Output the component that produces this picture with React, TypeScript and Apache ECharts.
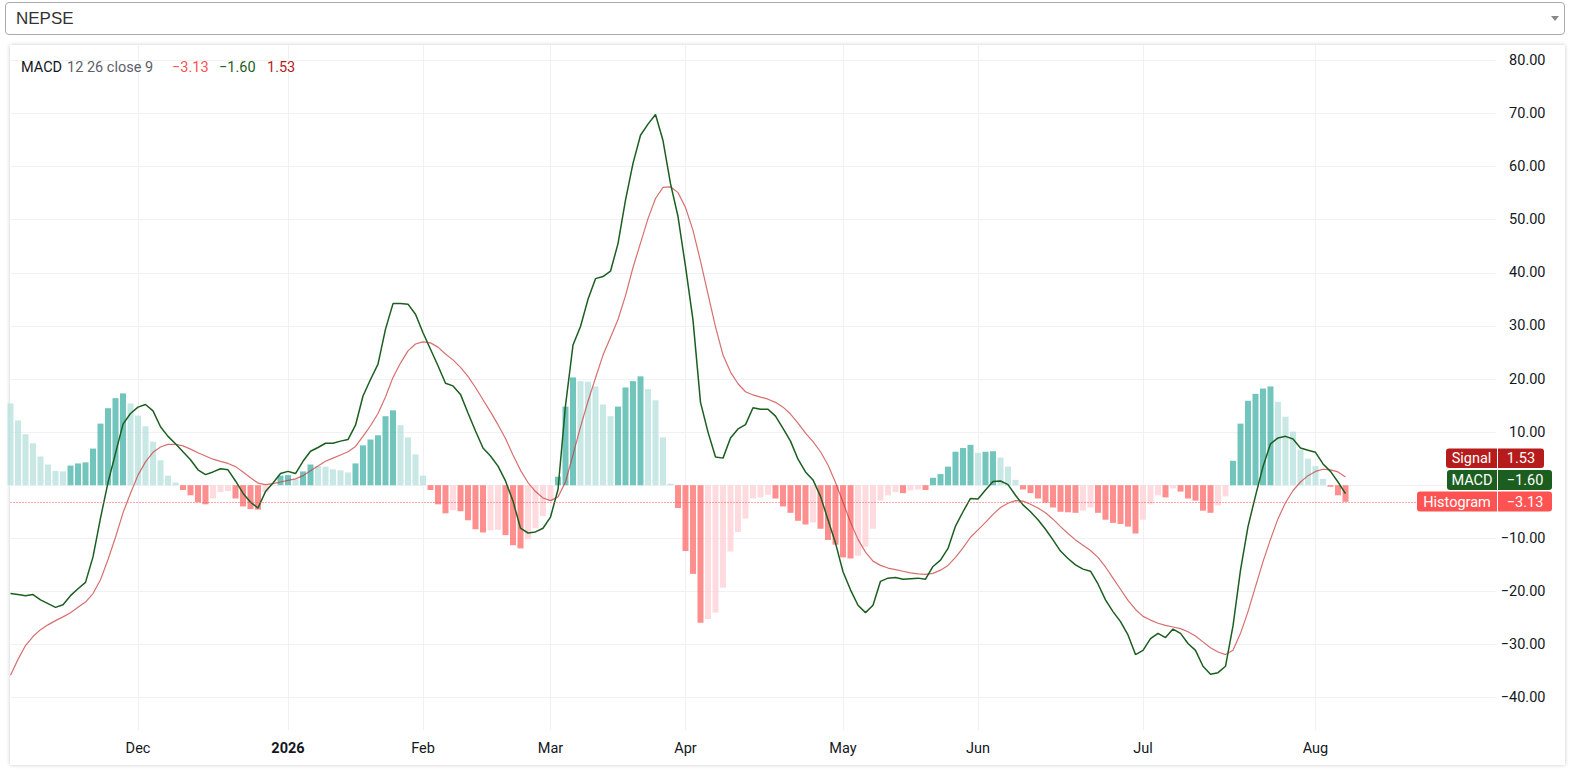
import React, { useEffect, useRef } from "react";
import * as echarts from "echarts";

const FONT = "Roboto, 'Trebuchet MS', sans-serif";

// ---- time scale: trading sessions per month (first visible month is Nov, unlabeled)
const monthKeys = ["Nov", "Dec", "Jan", "Feb", "Mar", "Apr", "May", "Jun", "Jul", "Aug"];
const monthBarCounts = [17, 20, 18, 17, 18, 21, 18, 22, 23, 5];
const monthTickLabels = ["", "Dec", "2026", "Feb", "Mar", "Apr", "May", "Jun", "Jul", "Aug"];
const rightPadSlots = 20;

// ---- price-scale grid values and the labels that are visible (0.00 sits behind the tags)
const yTicks = [-40, -30, -20, -10, 0, 10, 20, 30, 40, 50, 60, 70, 80];
const yLabelValues = [-40, -30, -20, -10, 10, 20, 30, 40, 50, 60, 70, 80];

// ---- MACD histogram (MACD - signal)
const histogram = [
  15.4, 12.2, 9.6, 7.9, 5.4, 3.9, 2.7, 2.6, 3.7, 4.1,
  4.3, 6.9, 11.6, 14.5, 16.4, 17.3, 15.4, 13.1, 11.1, 8.2,
  4.7, 1.8, 0.5, -0.9, -1.9, -3.2, -3.6, -2.5, -1.3, -1.1,
  -2.5, -4.0, -4.5, -4.6, -1.3, -0.1, 1.8, 1.9, 1.1, 2.6,
  3.9, 3.6, 3.5, 3.0, 2.8, 2.4, 4.1, 7.5, 8.6, 9.4,
  13.0, 14.1, 11.3, 9.0, 5.8, 1.8, -0.9, -3.6, -5.3, -4.7,
  -4.9, -6.6, -8.3, -8.9, -8.5, -8.4, -9.4, -11.3, -11.9, -10.2,
  -8.1, -5.8, -3.0, 1.6, 14.8, 20.3, 19.6, 19.5, 18.6, 15.2,
  13.0, 14.8, 18.4, 19.6, 20.5, 18.1, 16.0, 9.0, 0.3, -4.3,
  -12.4, -16.7, -25.9, -25.2, -24.0, -19.3, -12.5, -8.8, -6.3, -2.5,
  -2.3, -1.8, -2.5, -4.0, -5.2, -6.7, -7.4, -7.0, -8.2, -10.3,
  -11.2, -13.6, -13.8, -13.3, -11.6, -8.2, -2.9, -1.9, -1.3, -1.5,
  -1.0, -0.8, -0.9, 1.4, 2.1, 3.5, 6.3, 7.0, 7.6, 6.1,
  6.3, 6.4, 5.2, 3.5, 1.0, -0.8, -1.5, -2.5, -3.3, -4.2,
  -5.0, -5.1, -5.2, -4.8, -4.2, -5.2, -6.5, -7.1, -7.3, -7.8,
  -9.1, -6.5, -3.6, -1.9, -2.3, -0.6, -1.2, -2.5, -2.9, -4.8,
  -5.2, -3.8, -2.1, 4.6, 11.6, 15.9, 17.2, 18.2, 18.6, 15.7,
  12.9, 10.1, 6.7, 5.0, 3.6, 1.2, -0.3, -1.9, -3.13,
];

// ---- MACD line (12, 26)
const macdLine = [
  -20.4, -20.6, -20.8, -20.6, -21.6, -22.3, -23.0, -22.5, -20.8, -19.5,
  -18.3, -13.5, -6.2, 0.5, 6.0, 11.5, 13.5, 14.7, 15.2, 14.0,
  11.0, 9.2, 7.8, 6.3, 4.8, 2.9, 2.0, 2.5, 3.1, 2.9,
  0.8, -1.5, -3.2, -4.3, -1.2, 0.4, 2.2, 2.6, 2.2, 4.5,
  6.4, 7.1, 7.9, 7.9, 8.3, 8.6, 11.3, 16.8, 19.9, 22.8,
  29.4, 34.2, 34.2, 34.1, 32.2, 28.7, 25.6, 22.5, 19.2, 18.7,
  17.1, 13.6, 10.2, 7.0, 5.5, 3.6, 0.8, -3.0, -8.1, -9.0,
  -8.8, -8.1, -6.0, -0.8, 15.0, 26.4, 29.9, 35.0, 38.9, 39.3,
  40.3, 45.5, 53.7, 60.6, 65.9, 68.0, 69.8, 64.9, 56.8, 50.6,
  41.2, 31.1, 15.6, 10.0, 5.3, 5.1, 8.9, 10.6, 11.4, 14.6,
  14.3, 14.3, 13.0, 10.7, 8.3, 4.9, 2.5, 1.0, -2.1, -6.5,
  -10.9, -16.3, -19.7, -22.6, -24.0, -22.6, -18.1, -17.5, -17.4, -17.7,
  -17.6, -17.5, -17.7, -15.3, -14.1, -11.9, -7.7, -5.0, -2.5, -2.6,
  -0.9, 0.7, 0.8, 0.1, -1.9, -3.7, -5.0, -6.5, -8.3, -10.3,
  -12.4, -13.8, -15.0, -15.8, -16.2, -18.6, -21.6, -23.8, -25.7, -28.2,
  -31.9, -31.1, -28.9, -27.9, -28.7, -27.1, -27.9, -29.8, -31.1, -34.1,
  -35.6, -35.3, -34.1, -26.5, -16.0, -7.8, -2.0, 3.5, 7.8, 8.9,
  9.2, 8.7, 7.0, 6.6, 6.2, 4.0, 2.6, 0.6, -1.6,
];

// ---- Signal line (9)
const signalLine = [
  -35.8, -32.8, -30.2, -28.5, -27.2, -26.3, -25.5, -24.8, -24.0, -23.0,
  -22.0, -20.4, -17.8, -14.0, -9.8, -5.2, -1.5, 1.9, 4.4, 6.2,
  7.2, 7.7, 7.7, 7.4, 6.8, 6.1, 5.5, 4.9, 4.5, 4.1,
  3.5, 2.5, 1.4, 0.4, 0.1, 0.3, 0.6, 0.9, 1.2, 1.8,
  2.7, 3.6, 4.5, 5.1, 5.7, 6.3, 7.3, 9.2, 11.2, 13.5,
  16.6, 20.3, 23.0, 25.3, 26.6, 27.0, 26.8, 26.0, 24.7, 23.6,
  22.2, 20.5, 18.4, 16.1, 13.8, 11.4, 8.8, 5.7, 2.8, 0.5,
  -1.2, -2.4, -2.9, -2.2, 0.6, 5.7, 11.0, 15.8, 20.2, 24.5,
  27.8, 31.2, 35.7, 41.0, 45.6, 50.2, 54.0, 56.1, 56.2, 55.1,
  52.3, 48.0, 42.2, 36.0, 29.8, 24.5, 21.3, 19.1, 17.6, 17.0,
  16.6, 16.2, 15.6, 14.7, 13.4, 11.7, 9.8, 8.2, 6.3, 3.8,
  0.5, -3.2, -7.0, -10.2, -12.6, -14.3, -15.1, -15.6, -15.9, -16.2,
  -16.5, -16.7, -16.8, -16.6, -16.0, -15.1, -13.6, -11.8, -9.8, -8.4,
  -7.0, -5.5, -4.2, -3.4, -2.9, -3.0, -3.6, -4.3, -5.2, -6.4,
  -7.8, -9.1, -10.3, -11.3, -12.3, -13.6, -15.4, -17.5, -19.6, -21.7,
  -23.4, -24.7, -25.4, -26.0, -26.4, -26.7, -27.0, -27.6, -28.4, -29.5,
  -30.6, -31.4, -31.9, -31.1, -27.9, -23.8, -19.1, -14.4, -10.2, -6.3,
  -3.3, -1.0, 0.6, 1.8, 2.6, 3.0, 2.9, 2.5, 1.53,
];

const C = {
  growUp: "rgba(38,166,154,0.65)",
  fallUp: "rgba(178,223,219,0.72)",
  growDown: "rgba(255,205,210,0.72)",
  fallDown: "rgba(255,82,82,0.65)",
  macd: "#1b5e20",
  signalLine: "rgba(200,56,56,0.72)",
  signalTag: "#b71c1c",
  histTag: "#ff5252",
  text: "#131722",
  grid: "#f0f1f4",
};

const fmt = (v: number) => (v < 0 ? "\u2212" : "") + Math.abs(v).toFixed(2);

function buildCategories() {
  const cats: string[] = [];
  const labelOf: Record<string, string> = {};
  monthKeys.forEach((m, mi) => {
    for (let i = 0; i < monthBarCounts[mi]; i++) {
      const key = `${m}:${i}`;
      cats.push(key);
      if (i === 0 && monthTickLabels[mi]) labelOf[key] = monthTickLabels[mi];
    }
  });
  for (let j = 0; j < rightPadSlots; j++) cats.push(`pad:${j}`);
  return { cats, labelOf };
}

function buildOption() {
  const { cats, labelOf } = buildCategories();
  const isTick = (_i: number, v: string) => labelOf[v] !== undefined;

  const histItems = histogram.map((v, i) => {
    const prev = i > 0 ? histogram[i - 1] : Infinity;
    let color: string;
    if (v >= 0) color = v > prev ? C.growUp : C.fallUp;
    else color = v > prev ? C.growDown : C.fallDown;
    return { value: v, itemStyle: { color } };
  });

  const lastHist = histogram[histogram.length - 1];
  const lastMacd = macdLine[macdLine.length - 1];
  const lastSignal = signalLine[signalLine.length - 1];

  const txt = (x: number, y: number, text: string, fill: string, extra: any = {}) => ({
    type: "text",
    x,
    y,
    silent: true,
    z: 100,
    style: {
      text,
      fill,
      fontSize: 14.5,
      fontFamily: FONT,
      align: "left",
      textAlign: "left",
      verticalAlign: "middle",
      textVerticalAlign: "middle",
      ...extra,
    },
  });

  const tag = (y: number, h: number, lx: number, lw: number, vw: number, label: string, value: string, bg: string) => [
    {
      type: "rect",
      z: 100,
      silent: true,
      shape: { x: lx, y, width: lw, height: h, r: [3, 0, 0, 3] },
      style: { fill: bg },
    },
    {
      type: "rect",
      z: 100,
      silent: true,
      shape: { x: 1498, y, width: vw, height: h, r: [0, 3, 3, 0] },
      style: { fill: bg },
    },
    txt(lx + lw / 2, y + h / 2 + 0.5, label, "#ffffff", { align: "center", textAlign: "center" }),
    txt(1498 + vw / 2, y + h / 2 + 0.5, value, "#ffffff", { align: "center", textAlign: "center" }),
  ];

  return {
    animation: false,
    grid: { left: 10.5, right: 74.5, top: 45, bottom: 41, outerBoundsMode: "none" },
    xAxis: {
      type: "category",
      data: cats,
      boundaryGap: false,
      axisLine: { show: false },
      axisTick: { show: false },
      axisLabel: {
        interval: isTick,
        margin: 11,
        color: C.text,
        fontSize: 14.5,
        fontFamily: FONT,
        formatter: (v: string) => {
          const l = labelOf[v];
          if (!l) return "";
          return /^\d{4}$/.test(l) ? `{y|${l}}` : l;
        },
        rich: {
          y: { fontWeight: "bold", fontSize: 14.5, fontFamily: FONT, color: C.text },
        },
      },
      splitLine: { show: true, interval: isTick, lineStyle: { color: C.grid, width: 1 } },
    },
    yAxis: {
      type: "value",
      position: "right",
      min: -46.1,
      max: 82.9,
      axisLine: { show: false },
      axisTick: { show: false, customValues: yTicks },
      axisLabel: {
        customValues: yLabelValues,
        align: "right",
        margin: 50,
        color: C.text,
        fontSize: 14.5,
        fontFamily: FONT,
        formatter: (v: number) => fmt(v),
      },
      splitLine: { show: true, lineStyle: { color: C.grid, width: 1 } },
    },
    series: [
      {
        name: "Histogram",
        type: "bar",
        data: histItems,
        barWidth: 6,
        z: 1,
        markLine: {
          silent: true,
          symbol: ["none", "none"],
          label: { show: false },
          lineStyle: { color: C.histTag, type: [1, 2], width: 1 },
          emphasis: { disabled: true },
          data: [{ yAxis: lastHist }],
        },
      },
      {
        name: "Signal",
        type: "line",
        data: signalLine,
        symbol: "none",
        z: 2,
        lineStyle: { color: C.signalLine, width: 1.2 },
      },
      {
        name: "MACD",
        type: "line",
        data: macdLine,
        symbol: "none",
        z: 3,
        lineStyle: { color: C.macd, width: 1.5 },
      },
    ],
    graphic: [
      txt(21, 67, "MACD", C.text),
      txt(67, 67, "12 26 close 9", "#5d606b"),
      txt(172, 67, fmt(lastHist), C.histTag),
      txt(219, 67, fmt(lastMacd), C.macd),
      txt(267, 67, fmt(lastSignal), C.signalTag),
      ...tag(448.5, 19.5, 1446, 51, 46, "Signal", fmt(lastSignal), C.signalTag),
      ...tag(470, 20, 1447, 50, 54, "MACD", fmt(lastMacd), C.macd),
      ...tag(491.5, 20, 1417, 80, 54, "Histogram", fmt(lastHist), C.histTag),
    ],
  };
}

export default function App() {
  const ref = useRef<HTMLDivElement>(null);
  useEffect(() => {
    if (!ref.current) return;
    const chart = echarts.init(ref.current, null, { renderer: "svg" });
    chart.setOption(buildOption() as any);
    return () => chart.dispose();
  }, []);

  return (
    <div
      style={{
        position: "fixed",
        left: 0,
        top: 0,
        width: 1570,
        height: 771,
        background: "#ffffff",
        overflow: "hidden",
      }}
    >
      <div
        style={{
          position: "absolute",
          left: 5,
          top: 2,
          width: 1558,
          height: 31,
          border: "1px solid #aaaaaa",
          borderRadius: 4,
          background: "#ffffff",
        }}
      >
        <span
          style={{
            position: "absolute",
            left: 10,
            top: 0,
            lineHeight: "31px",
            fontSize: 17,
            fontFamily: "'Liberation Sans', Arial, sans-serif",
            color: "#333333",
          }}
        >
          NEPSE
        </span>
        <div
          style={{
            position: "absolute",
            left: 1545,
            top: 13,
            width: 0,
            height: 0,
            borderLeft: "4px solid transparent",
            borderRight: "4px solid transparent",
            borderTop: "5px solid #888888",
          }}
        />
      </div>
      <div
        style={{
          position: "absolute",
          left: 10,
          top: 45,
          width: 1555,
          height: 720,
          background: "#ffffff",
          boxShadow: "0 0 4px rgba(0,0,0,0.22)",
        }}
      />
      <div ref={ref} style={{ position: "absolute", left: 0, top: 0, width: 1570, height: 771 }} />
    </div>
  );
}
